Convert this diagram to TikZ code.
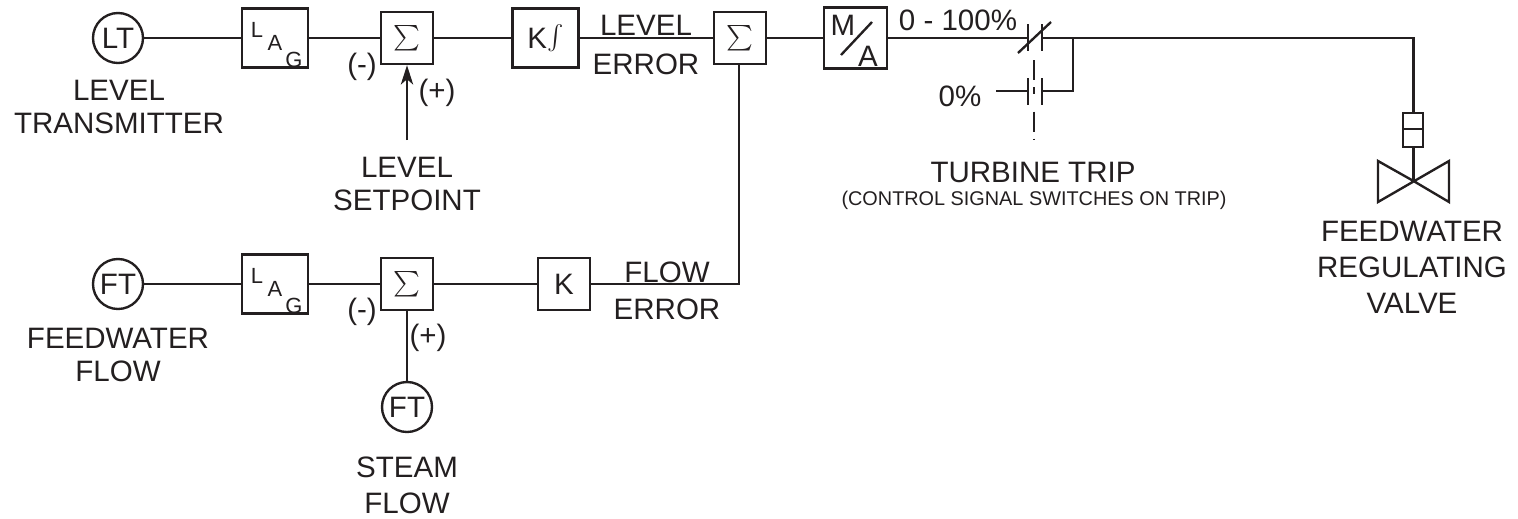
\documentclass[tikz,border=0pt]{standalone}
\usepackage{fontspec}
\setmainfont{Liberation Sans}
\usepackage{xcolor}
\usetikzlibrary{arrows.meta}
\definecolor{inkline}{HTML}{231F20}
\newcommand{\sumsign}{\scalebox{1.45}{$\sum$}}
\newcommand{\intsign}{\scalebox{1.4}{$\int$}}
\tikzset{
	ctrlbox/.style={draw,rectangle,inner sep=0pt,minimum width=1.04cm,minimum height=1.04cm},
	lagbox/.style={draw,rectangle,inner sep=0pt,minimum width=1.32cm,minimum height=1.18cm},
	instr/.style={draw,circle,inner sep=0pt,minimum size=1cm},
	lbl/.style={inner sep=0pt,align=center},
	lagletter/.style={inner sep=0pt,font=\fontsize{12.5pt}{14pt}\selectfont}
}
\begin{document}
\begin{tikzpicture}[%
	x=0.02cm,y=-0.02cm,
	line width=1.35pt,color=inkline,
	font=\fontsize{16.8pt}{19pt}\selectfont]
	\useasboundingbox (0,0) rectangle (1518,518);
	\node[instr] (lt) at (118,38) {LT};
	\node[lagbox] (lagtop) at (275,38) {};
	\node[ctrlbox] (sumlevel) at (407,38) {\sumsign};
	\node[lagbox] (integ) at (545.5,38) {K\intsign};
	\node[ctrlbox] (sumout) at (740,38) {\sumsign};
	\node[lagbox,minimum width=1.26cm,minimum height=1.22cm] (manauto) at (855.5,38) {};
	\node[instr] (ftfeed) at (118,284) {FT};
	\node[lagbox] (lagbot) at (275,284) {};
	\node[ctrlbox] (sumflow) at (407,284) {\sumsign};
	\node[ctrlbox] (gain) at (564,284) {K};
	\node[instr] (ftsteam) at (407,407) {FT};
	\node[lagletter] (lagtopl) at (257,30) {L};
	\node[lagletter] (lagtopa) at (275,43) {A};
	\node[lagletter] (lagtopg) at (294,60) {G};
	\node[lagletter] (lagbotl) at (257,276) {L};
	\node[lagletter] (lagbota) at (275,289) {A};
	\node[lagletter] (lagbotg) at (294,306) {G};
	\node[lbl] (mlabel) at (843,25) {M};
	\node[lbl] (alabel) at (868,56) {A};
	\node[lbl] (levellabel) at (119,107) {LEVEL\\[0.3pt]TRANSMITTER};
	\node[lbl] (setlabel) at (407,184) {LEVEL\\SETPOINT};
	\node[lbl] (feedlabel) at (118,355) {FEEDWATER\\FLOW};
	\node[lbl] (steamlabel) at (407,485) {STEAM\\[1.5pt]FLOW};
	\node[lbl] (levelerr) at (646,45) {LEVEL\\[3pt]ERROR};
	\node[lbl] (flowerr) at (667,291) {FLOW\\[2pt]ERROR};
	\node[lbl] (minusa) at (362,67) {(-)};
	\node[lbl] (plusa) at (437,93) {(+)};
	\node[lbl] (minusb) at (362,312) {(-)};
	\node[lbl] (plusb) at (428,338) {(+)};
	\node[lbl] (rangelabel) at (958,20) {0 - 100\%};
	\node[lbl] (zerolabel) at (960,96) {0\%};
	\node[lbl] (triplabel) at (1033,172) {TURBINE TRIP};
	\node[lbl,font=\fontsize{11.3pt}{13pt}\selectfont] (tripnote) at (1034,200) {(CONTROL SIGNAL SWITCHES ON TRIP)};
	\node[lbl] (valvelabel) at (1412,267) {FEEDWATER\\[1.5pt]REGULATING\\[1.5pt]VALVE};
	\coordinate (setpoint) at (407,140);
	\coordinate (contl) at (1028,38);
	\coordinate (contr) at (1042,38);
	\coordinate (lowl) at (1028,91);
	\coordinate (lowr) at (1042,91);
	\coordinate (lowin) at (996,91);
	\coordinate (tie) at (1073,38);
	\coordinate (tiel) at (1073,91);
	\coordinate (corner) at (1413.5,38);
	\coordinate (acttop) at (1413.5,113);
	\coordinate (actbot) at (1413.5,147);
	\coordinate (plug) at (1413.5,181);
	\coordinate (flowcorner) at (739,284);
	\draw (lt) -- (lagtop);
	\draw (lagtop) -- (sumlevel);
	\draw (sumlevel) -- (integ);
	\draw (integ) -- (sumout);
	\draw (sumout) -- (manauto);
	\draw (manauto) -- (contl);
	\draw (contr) -- (corner) -- (acttop);
	\draw[-{Stealth[length=11pt,width=7pt,inset=3pt]}] (setpoint) -- (sumlevel);
	\draw (ftfeed) -- (lagbot);
	\draw (lagbot) -- (sumflow);
	\draw (sumflow) -- (gain);
	\draw (gain) -- (flowcorner) -- (flowcorner |- sumout.south);
	\draw (sumflow) -- (ftsteam);
	\draw (841,55) -- (872,22);
	\draw (1028,24) -- (1028,51);
	\draw (1042,24) -- (1042,51);
	\draw (1018,53) -- (1051,22);
	\draw (lowin) -- (lowl);
	\draw (1028,78) -- (1028,105);
	\draw (1042,78) -- (1042,105);
	\draw (lowr) -- (tiel) -- (tie);
	\draw[line width=0.8pt,dash pattern=on 11.4pt off 4pt on 4pt off 10pt] (1034,60) -- (1034,140);
	\draw (1403,113) rectangle (1423,147);
	\draw (1403,129) -- (1423,129);
	\draw (actbot) -- (plug);
	\draw[line join=miter] (plug) -- (1378,161) -- (1378,202) -- (1449,161) -- (1449,202) -- cycle;
\end{tikzpicture}
\end{document}
